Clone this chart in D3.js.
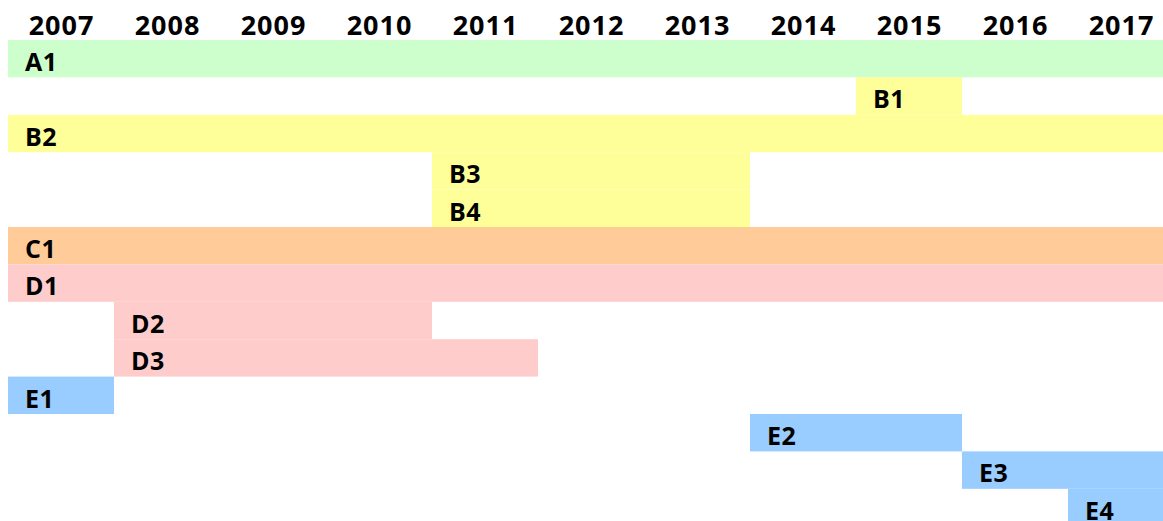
<!DOCTYPE html>
<html>
<head>
<meta charset="utf-8">
<script src="https://cdn.jsdelivr.net/npm/d3@7"></script>
<style>
  body { margin: 0; background: #fff; }
  svg { display: block; }
</style>
</head>
<body>
<div class="canvas"></div>
<script>
// Chart data
const years = [2007, 2008, 2009, 2010, 2011, 2012, 2013, 2014, 2015, 2016, 2017];
const tasks = ['A1', 'B1', 'B2', 'B3', 'B4', 'C1', 'D1', 'D2', 'D3', 'E1', 'E2', 'E3', 'E4'];
const groups = ['A', 'B', 'B', 'B', 'B', 'C', 'D', 'D', 'D', 'E', 'E', 'E', 'E'];
const starts = [2007, 2015, 2007, 2011, 2011, 2007, 2007, 2008, 2008, 2007, 2014, 2016, 2017];
const ends = [2018, 2016, 2018, 2014, 2014, 2018, 2018, 2011, 2012, 2008, 2016, 2018, 2018];

// group colours
const groupNames = ['A', 'B', 'C', 'D', 'E'];
const groupColors = ['#ccffcc', '#ffff99', '#ffcc99', '#ffcccc', '#99ccff'];

// Chart dimensions
const dims = {width: 1163, height: 521};
const chart = {left: 8, top: 40, yearW: 106, rowH: 37.4};

const svg = d3.select('.canvas')
    .append('svg')
    .attr('width', dims.width)
    .attr('height', dims.height);

// scales
const x = d3.scaleLinear()
    .domain([years[0], years[years.length - 1] + 1])
    .range([chart.left, chart.left + years.length * chart.yearW]);

const y = d3.scaleBand()
    .domain(tasks)
    .range([chart.top, chart.top + tasks.length * chart.rowH])
    .padding(0);

const colour = d3.scaleOrdinal()
    .domain(groupNames)
    .range(groupColors);

const data = tasks.map((t, i) => ({name: t, group: groups[i], start: starts[i], end: ends[i]}));

// bars
svg.append('g')
    .selectAll('rect')
    .data(data)
    .enter().append('rect')
    .attr('x', d => x(d.start))
    .attr('y', d => y(d.name))
    .attr('width', d => x(d.end) - x(d.start))
    .attr('height', y.bandwidth())
    .attr('fill', d => colour(d.group));

// bar labels
svg.append('g')
    .selectAll('text')
    .data(data)
    .enter().append('text')
    .attr('x', d => x(d.start) + 17)
    .attr('y', d => y(d.name) + 31)
    .attr('font-family', '"Open Sans", sans-serif')
    .attr('font-weight', 'bold')
    .attr('font-size', 25)
    .attr('letter-spacing', 0.5)
    .attr('fill', '#000')
    .text(d => d.name);

// year axis on top
const axis = d3.axisTop(x)
    .tickValues(years.map(yr => yr + 0.5))
    .tickFormat(v => String(Math.floor(v)))
    .tickSize(0)
    .tickPadding(0);

const axisG = svg.append('g')
    .attr('transform', 'translate(0, 35)')
    .call(axis);

axisG.select('.domain').remove();
axisG.selectAll('text')
    .attr('font-family', '"Open Sans", sans-serif')
    .attr('font-weight', 'bold')
    .attr('font-size', 27)
    .attr('letter-spacing', 1)
    .attr('fill', '#000')
    .attr('dy', 0);
</script>
</body>
</html>
